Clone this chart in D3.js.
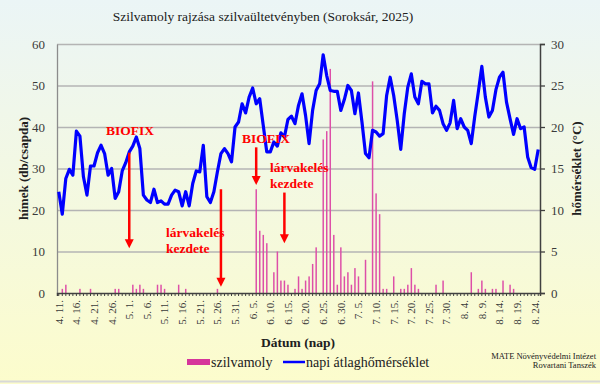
<!DOCTYPE html>
<html lang="hu">
<head>
<meta charset="utf-8">
<script src="https://d3js.org/d3.v7.min.js"></script>
<style>
  body { margin: 0; }
  svg text { font-family: "Liberation Serif", "Times New Roman", serif; }
</style>
</head>
<body>
<div id="my_dataviz"></div>
<script>

// daily categories, 2025.04.11 - 2025.08.25
var firstDay = new Date(2025, 3, 11), lastDay = new Date(2025, 7, 26);
var days = d3.timeDay.range(firstDay, lastDay);

// tick labels (every 5th day)
var tickLabels = ["4. 11.","4. 16.","4. 21.","4. 26.","5. 1.","5. 6.","5. 11.","5. 16.","5. 21.","5. 26.",
  "5. 31.","6. 5.","6. 10.","6. 15.","6. 20.","6. 25.","6. 30.","7. 5.","7. 10.","7. 15.",
  "7. 20.","7. 25.","7. 30.","8. 4.","8. 9.","8. 14.","8. 19.","8. 24."];

// szilvamoly (males / trap / day)
var mothApr = [0,1,2,0,0,0,1,0,0,1,0,0,0,0,0,0,1,1,0,0];
var mothMay = [0,2,1,2,1,0,0,0,2,2,1,0,0,0,2,0,1,0,0,0,0,0,0,0,0,1,0,0,0,0,0];
var mothJun = [0,0,0,0,0,25,15,14,12,0,5,10,3,3,2,0,1,4,1,3,4,7,11,0,37,39,54,14,2,11];
var mothJul = [4,5,2,6,4,0,8,0,51,24,19,1,1,0,4,0,1,1,2,6,2,1,0,0,0,0,2,0,3,0,0];
var mothAug = [0,0,0,0,0,5,0,1,3,1,0,1,1,0,3,0,2,1,0,0,0,0,0,0,0];

// napi átlaghőmérséklet (°C)
var tempApr = [12.2,9.5,13.8,14.9,14.2,19.5,18.9,14.0,11.8,15.3,15.3,16.9,17.8,16.8,14.2,15.0,11.4,12.2,14.7,15.7];
var tempMay = [17.0,17.7,18.8,17.4,11.8,11.2,10.9,12.5,10.9,11.1,10.7,10.7,11.8,12.4,12.2,10.5,12.2,10.5,13.2,14.7,
  14.6,17.8,11.6,10.9,12.2,14.6,16.8,17.4,16.8,15.8,20.0];
var tempJun = [20.6,22.8,21.7,23.6,24.7,22.8,23.4,20.2,17.0,17.0,18.2,17.7,19.3,18.8,20.9,21.3,20.4,22.6,24.0,21.4,
  18.0,22.0,24.4,25.2,28.7,26.2,24.4,24.3,24.3,22.0];
var tempJul = [23.3,25.0,24.4,21.6,24.1,20.6,16.8,16.3,19.6,19.4,18.9,19.2,23.8,26.0,23.8,20.8,17.3,21.6,24.8,26.4,
  23.6,22.8,25.5,25.2,25.2,21.7,22.5,22.0,20.4,19.6,20.5];
var tempAug = [23.2,19.8,21.0,20.0,19.6,18.0,21.3,24.2,27.3,23.6,21.2,22.0,24.5,26.0,26.6,23.0,21.0,19.1,21.0,19.8,
  20.0,16.4,15.1,14.9,17.3];

var moths = mothApr.concat(mothMay, mothJun, mothJul, mothAug);
var temps = tempApr.concat(tempMay, tempJun, tempJul, tempAug);

// annotations: label, day index, arrow from/to (males axis), text anchor
var notes = [
  {lines: ["BIOFIX"], day: 20, from: 33.8, to: 10.8, tx: 130, ty: 135, anchor: "middle"},
  {lines: ["lárvakelés", "kezdete"], day: 46, from: 25, to: 1.5, tx: 166, ty: 237, anchor: "start"},
  {lines: ["BIOFIX"], day: 56, from: 35.1, to: 26, tx: 266, ty: 143, anchor: "middle"},
  {lines: ["lárvakelés", "kezdete"], day: 64, from: 24.2, to: 12, tx: 270, ty: 172, anchor: "start"}
];

var W = 600, H = 384;
var margin = {top: 44, right: 60, bottom: 91, left: 57},
    width = W - margin.left - margin.right,
    height = H - margin.top - margin.bottom;

var svg = d3.select("#my_dataviz").append("svg")
    .attr("width", W).attr("height", H);

// background gradient
var grad = svg.append("defs").append("linearGradient")
    .attr("id", "bg").attr("x1", 0).attr("y1", 0).attr("x2", 0).attr("y2", 1);
grad.append("stop").attr("offset", "0%").attr("stop-color", "#ebf5f6");
grad.append("stop").attr("offset", "100%").attr("stop-color", "#fcfccc");
svg.append("rect").attr("width", W).attr("height", H).attr("fill", "url(#bg)");
svg.append("line").attr("x1", 0).attr("x2", W).attr("y1", H - 2.5).attr("y2", H - 2.5)
    .attr("stroke", "#d8d8d8").attr("stroke-width", 2);

var g = svg.append("g").attr("transform", "translate(" + margin.left + "," + margin.top + ")");

var x = d3.scaleBand().domain(d3.range(days.length)).range([0, width]).padding(0);
var y = d3.scaleLinear().domain([0, 60]).range([height, 0]);
var y2 = d3.scaleLinear().domain([0, 30]).range([height, 0]);
var bw = x.bandwidth();

// gridlines
g.append("g")
    .call(d3.axisLeft(y).tickValues(d3.range(10, 61, 10)).tickSize(-width).tickFormat(""))
    .call(function(a) { a.select(".domain").remove(); })
    .selectAll("line").attr("stroke", "#b4b4b4").attr("stroke-width", 1.3);

// left axis
var yl = g.append("g").call(d3.axisLeft(y).tickValues(d3.range(0, 61, 10)).tickSize(0).tickPadding(12));
yl.select(".domain").attr("stroke", "#8c8c8c").attr("stroke-width", 1.3);
yl.selectAll("text").style("font-size", "13px").attr("fill", "#3a3a3a");

// right axis
var yr = g.append("g").attr("transform", "translate(" + width + ",0)")
    .call(d3.axisRight(y2).tickValues(d3.range(0, 31, 5)).tickSize(5).tickPadding(6));
yr.select(".domain").attr("stroke", "#404040").attr("stroke-width", 1.5);
yr.selectAll("line").attr("stroke", "#404040").attr("stroke-width", 1.3);
yr.selectAll("text").style("font-size", "13px").attr("fill", "#3a3a3a");

// bars
g.append("g").selectAll("rect")
  .data(moths.map(function(v, i) { return {i: i, v: v}; }).filter(function(d) { return d.v > 0; }))
  .enter().append("rect")
    .attr("x", function(d) { return x(d.i) + bw * 0.3; })
    .attr("width", bw * 0.42)
    .attr("y", function(d) { return y(d.v); })
    .attr("height", function(d) { return height - y(d.v); })
    .attr("fill", "#dd4fa8");

// x axis
var xa = g.append("g").attr("transform", "translate(0," + height + ")")
    .call(d3.axisBottom(x).tickSize(3).tickPadding(4).tickFormat(function(d) {
      return d % 5 === 0 ? tickLabels[d / 5] : "";
    }));
xa.select(".domain").attr("stroke", "#404040").attr("stroke-width", 1.5);
xa.selectAll("line").attr("stroke", "#404040");
xa.selectAll("text")
    .style("font-size", "11px").attr("fill", "#3a3a3a")
    .attr("text-anchor", "end")
    .attr("transform", "rotate(-90)")
    .attr("x", -7).attr("y", 0).attr("dy", "0.35em");

// temperature line
var line = d3.line()
    .x(function(d, i) { return x(i) + bw / 2; })
    .y(function(d) { return y2(d); });
g.append("path").datum(temps)
    .attr("d", line)
    .attr("fill", "none")
    .attr("stroke", "#0000ff")
    .attr("stroke-width", 3.2)
    .attr("stroke-linejoin", "round");

// annotations
notes.forEach(function(n) {
  var ax = x(n.day) + bw / 2;
  g.append("line")
    .attr("x1", ax).attr("x2", ax)
    .attr("y1", y(n.from)).attr("y2", y(n.to) - 8)
    .attr("stroke", "#ff0000").attr("stroke-width", 2.5);
  g.append("path")
    .attr("d", "M" + (ax - 4.5) + "," + (y(n.to) - 9) + "L" + (ax + 4.5) + "," + (y(n.to) - 9) + "L" + ax + "," + y(n.to) + "Z")
    .attr("fill", "#ff0000");
  n.lines.forEach(function(t, k) {
    svg.append("text")
      .attr("x", n.tx).attr("y", n.ty + k * 16)
      .attr("text-anchor", n.anchor)
      .style("font-size", "13.5px").style("font-weight", "bold")
      .attr("fill", "#ff0000")
      .text(t);
  });
});

// title
svg.append("text").attr("x", 263).attr("y", 21).attr("text-anchor", "middle")
    .style("font-size", "13.5px").attr("fill", "#202020")
    .text("Szilvamoly rajzása szilvaültetvényben (Soroksár, 2025)");

// axis titles
svg.append("text")
    .attr("transform", "translate(28," + (margin.top + height / 2) + ") rotate(-90)")
    .attr("text-anchor", "middle")
    .style("font-size", "13px").style("font-weight", "bold").attr("fill", "#202020")
    .text("hímek (db/csapda)");
svg.append("text")
    .attr("transform", "translate(581," + (margin.top + height / 2) + ") rotate(-90)")
    .attr("text-anchor", "middle")
    .style("font-size", "13px").style("font-weight", "bold").attr("fill", "#202020")
    .text("hőmérséklet (°C)");
svg.append("text").attr("x", 298).attr("y", 347).attr("text-anchor", "middle")
    .style("font-size", "13.5px").style("font-weight", "bold").attr("fill", "#202020")
    .text("Dátum (nap)");

// legend
svg.append("rect").attr("x", 187).attr("y", 359).attr("width", 23).attr("height", 6).attr("fill", "#d6359b");
svg.append("text").attr("x", 211).attr("y", 367).style("font-size", "14px").attr("fill", "#202020").text("szilvamoly");
svg.append("line").attr("x1", 283).attr("x2", 305).attr("y1", 362).attr("y2", 362)
    .attr("stroke", "#0000ff").attr("stroke-width", 2.5);
svg.append("text").attr("x", 306).attr("y", 367).style("font-size", "14px").attr("fill", "#202020").text("napi átlaghőmérséklet");

// credit
svg.append("text").attr("x", 596).attr("y", 359).attr("text-anchor", "end")
    .style("font-size", "8.5px").attr("fill", "#202020").text("MATE Növényvédelmi Intézet");
svg.append("text").attr("x", 596).attr("y", 368).attr("text-anchor", "end")
    .style("font-size", "8.5px").attr("fill", "#202020").text("Rovartani Tanszék");

</script>
</body>
</html>
